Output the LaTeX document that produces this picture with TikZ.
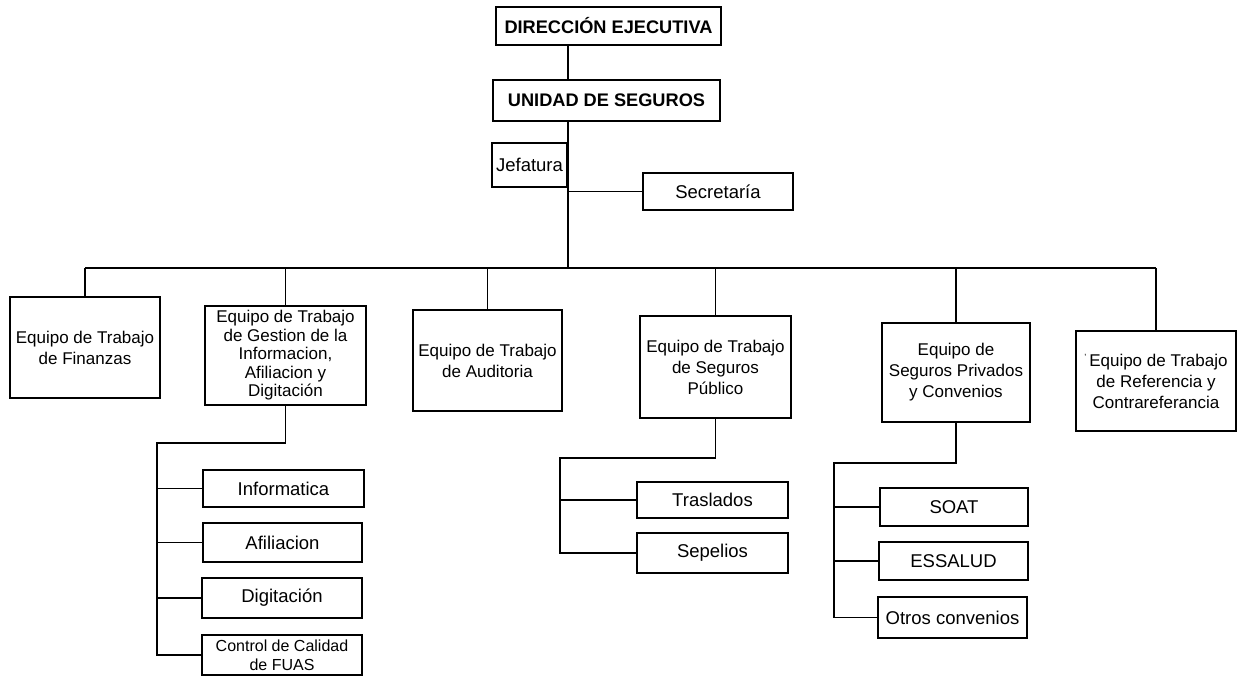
\documentclass[tikz,border=0pt]{standalone}
\usepackage{fontspec}
\setmainfont{Liberation Sans}
\begin{document}
\begin{tikzpicture}[x=1pt,y=-1pt,
  box/.style={draw,line width=1.8pt,rectangle,align=center,inner sep=1pt,font=\fontsize{18.5}{21}\selectfont},
  topbox/.style={box,font=\bfseries\fontsize{18.2}{21}\selectfont},
  team/.style={box,font=\fontsize{17}{21}\selectfont},
  link/.style={line width=1.8pt}]
\useasboundingbox (0,0) rectangle (1243,679);
% top
\node[topbox,minimum width=225pt,minimum height=38pt] (dir) at (608.5,26) {DIRECCIÓN EJECUTIVA};
\node[topbox,minimum width=227pt,minimum height=41pt] (uni) at (606.5,100.5) {UNIDAD DE SEGUROS};
\node[box,minimum width=75pt,minimum height=44pt] (jef) at (529.5,165) {Jefatura};
\node[box,minimum width=150pt,minimum height=37pt] (sec) at (718,191.5) {Secretaría};
% teams
\node[team,minimum width=150pt,minimum height=101pt] (fin) at (85,347.5) {Equipo de Trabajo\\de Finanzas};
\node[team,minimum width=161pt,minimum height=99pt,font=\fontsize{17}{18.5}\selectfont] (ges) at (285.5,355.5) {Equipo de Trabajo\\de Gestion de la\\Informacion,\\Afiliacion y\\Digitación};
\node[team,minimum width=149pt,minimum height=101pt] (aud) at (487.5,360.5) {Equipo de Trabajo\\de Auditoria};
\node[team,minimum width=151pt,minimum height=102pt] (pub) at (715.5,367) {Equipo de Trabajo\\de Seguros\\Público};
\node[team,minimum width=148pt,minimum height=99pt] (pri) at (956,372.5) {Equipo de\\Seguros Privados\\y Convenios};
\node[team,minimum width=160pt,minimum height=100pt] (ref) at (1156,381) {{\fontsize{9}{9}\selectfont\raisebox{1.2ex}{'}}\,Equipo de Trabajo\\de Referencia y\\Contrareferancia};
% sub units
\node[box,minimum width=161pt,minimum height=37pt] (inf) at (283.5,488.5) {Informatica};
\node[box,minimum width=159pt,minimum height=39pt] (afi) at (282.5,542.5) {Afiliacion};
\node[box,minimum width=160pt,minimum height=40pt] (dig) at (282,598) {Digitación};
\node[box,minimum width=160pt,minimum height=40pt,font=\fontsize{16}{19}\selectfont] (fua) at (282,655) {Control de Calidad\\de FUAS};
\node[box,minimum width=151pt,minimum height=36pt] (tra) at (712.5,500) {Traslados};
\node[box,minimum width=151pt,minimum height=40pt] (sep) at (712.5,553) {Sepelios};
\node[box,minimum width=148pt,minimum height=38pt] (soa) at (954,507) {SOAT};
\node[box,minimum width=149pt,minimum height=38pt] (ess) at (953.5,561) {ESSALUD};
\node[box,minimum width=149pt,minimum height=41pt] (otr) at (952.5,617.5) {Otros convenios};
% coordinates
\coordinate (bus) at (0,268);
\coordinate (gk) at (157,443);
\coordinate (pk) at (560,458);
\coordinate (vk) at (834,463);
% connectors
\draw[link] (dir.south -| jef.east) -- (uni.north -| jef.east);
\draw[link] (uni.south -| jef.east) -- (jef.east |- bus);
\draw[link] (jef.east |- sec.west) -- (sec.west);
\draw[link] (fin.north |- bus) -- (ref.north |- bus);
\foreach \n in {fin,ges,aud,pub,pri,ref}
  \draw[link] (\n.north |- bus) -- (\n.north);
\draw[link] (ges.south) -- (ges.south |- gk) -- (gk) -- (gk |- fua.west) -- (fua.west);
\foreach \n in {inf,afi,dig}
  \draw[link] (gk |- \n.west) -- (\n.west);
\draw[link] (pub.south) -- (pub.south |- pk) -- (pk) -- (pk |- sep.west) -- (sep.west);
\draw[link] (pk |- tra.west) -- (tra.west);
\draw[link] (pri.south) -- (pri.south |- vk) -- (vk) -- (vk |- otr.west) -- (otr.west);
\foreach \n in {soa,ess}
  \draw[link] (vk |- \n.west) -- (\n.west);
\end{tikzpicture}
\end{document}
